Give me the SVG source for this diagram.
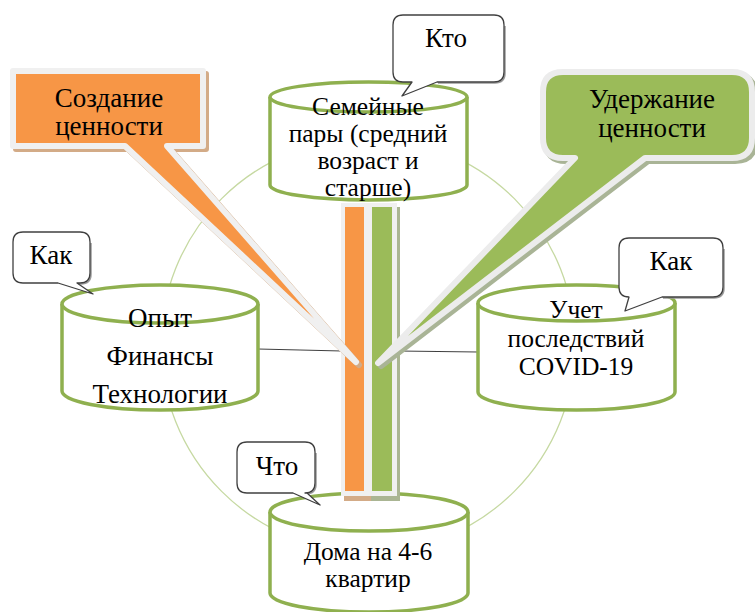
<svg xmlns="http://www.w3.org/2000/svg" width="755" height="612" viewBox="0 0 755 612">
<style>
text{font-family:"Liberation Serif","Times New Roman",serif;font-size:27px;fill:#000;text-anchor:middle}
.tight{font-size:25.5px}
.cyl{fill:#fff;stroke:#8fb04f;stroke-width:3.5}
.bub{fill:#fff;stroke:#404040;stroke-width:1.3;stroke-linejoin:round}
.bubsh{fill:none;stroke:#9a9a9a;stroke-width:1.5;stroke-linejoin:round}
.conn{stroke:#404040;stroke-width:1.2;fill:none}
.ring{fill:none;stroke:#c6d9a2;stroke-width:1.3}
</style>
<rect width="755" height="612" fill="#fff"/>
<circle class="ring" cx="368" cy="345" r="207"/>
<g id="connectors">
<line class="conn" x1="258" y1="349" x2="342" y2="351"/>
<line class="conn" x1="398" y1="351" x2="478" y2="352"/>
</g>
<g id="node-top">
<path class="cyl" d="M270,97 V185 A98.5,15 0 0 0 467,185 V97"/>
<ellipse class="cyl" cx="368.5" cy="97" rx="98.5" ry="15"/>
<text class="tight" x="368" y="115">Семейные</text>
<text class="tight" x="368" y="142">пары (средний</text>
<text class="tight" x="368" y="169">возраст и</text>
<text class="tight" x="368" y="196">старше)</text>
</g>
<g id="node-left">
<path class="cyl" d="M62,304 V391 A98,19 0 0 0 258,391 V304"/>
<ellipse class="cyl" cx="160" cy="304" rx="98" ry="19"/>
<text x="160" y="327">Опыт</text>
<text x="160" y="365">Финансы</text>
<text x="160" y="403">Технологии</text>
</g>
<g id="node-right">
<path class="cyl" d="M478,303 V392 A98.5,18 0 0 0 675,392 V303"/>
<ellipse class="cyl" cx="576.5" cy="303" rx="98.5" ry="18"/>
<text class="tight" x="576" y="318">Учет</text>
<text class="tight" x="576" y="347">последствий</text>
<text class="tight" x="576" y="375">COVID-19</text>
</g>
<g id="node-bottom">
<path class="cyl" d="M270,512 V593 A99,19 0 0 0 468,593 V512"/>
<ellipse class="cyl" cx="369" cy="512" rx="99" ry="19"/>
<text class="tight" x="368" y="560">Дома на 4-6</text>
<text class="tight" x="368" y="587">квартир</text>
</g>
<g id="bars">
<rect x="344" y="207" width="27" height="294" fill="#d3ab87"/>
<rect x="341" y="203" width="27" height="293" fill="#f0f0f0"/>
<rect x="345" y="207" width="19" height="284" fill="#f79646"/>
<rect x="371" y="207" width="29" height="294" fill="#aab593"/>
<rect x="368" y="203" width="29" height="293" fill="#f0f0f0"/>
<rect x="372" y="207" width="20" height="284" fill="#9bbb59"/>
</g>
<g id="callout-create">
<path d="M16,74 H206 V149 H170 L359,365 L128,149 H16 Z" fill="#d3ab87" stroke="#d3ab87" stroke-width="6" stroke-linejoin="round"/>
<path d="M13,71 H203 V146 H167 L356,362 L125,146 H13 Z" fill="#f79646" stroke="#f0f0f0" stroke-width="6" stroke-linejoin="round"/>
<text x="109" y="107">Создание</text>
<text x="109" y="135">ценности</text>
</g>
<g id="callout-retain">
<path d="M566,75 H735 Q755,75 755,95 V141 Q755,161 735,161 H648 L381,366 L578,161 H566 Q546,161 546,141 V95 Q546,75 566,75 Z" fill="#a9b496" stroke="#a9b496" stroke-width="6" stroke-linejoin="round"/>
<path d="M563,72 H732 Q752,72 752,92 V138 Q752,158 732,158 H645 L378,363 L575,158 H563 Q543,158 543,138 V92 Q543,72 563,72 Z" fill="#9bbb59" stroke="#ececec" stroke-width="6" stroke-linejoin="round"/>
<text x="652" y="108">Удержание</text>
<text x="652" y="137">ценности</text>
</g>
<g id="bubble-kto">
<path class="bubsh" d="M505,26 V73 Q505,83 495,83 H438"/>
<path class="bub" d="M403,15 H494 Q504,15 504,25 V72 Q504,82 494,82 H437 L402,96 L412,82 H403 Q393,82 393,72 V25 Q393,15 403,15 Z"/>
<text x="446" y="47">Кто</text>
</g>
<g id="bubble-kak-left">
<path class="bubsh" d="M91,243 V274 Q91,284 81,284 H78"/>
<path class="bub" d="M23,232 H80 Q90,232 90,242 V273 Q90,283 80,283 H77 L93,294 L58,283 H23 Q13,283 13,273 V242 Q13,232 23,232 Z"/>
<text x="51" y="264">Как</text>
</g>
<g id="bubble-kak-right">
<path class="bubsh" d="M724,249 V288 Q724,298 714,298 H663"/>
<path class="bub" d="M629,238 H713 Q723,238 723,248 V287 Q723,297 713,297 H662 L625,311 L629,297 Q619,297 619,287 V248 Q619,238 629,238 Z"/>
<text x="671" y="270">Как</text>
</g>
<g id="bubble-chto">
<path class="bubsh" d="M316,453 V484 Q316,494 306,494"/>
<path class="bub" d="M247,442 H305 Q315,442 315,452 V483 Q315,493 305,493 H307 L320,505 L293,493 H247 Q237,493 237,483 V452 Q237,442 247,442 Z"/>
<text x="277" y="475">Что</text>
</g>
</svg>
